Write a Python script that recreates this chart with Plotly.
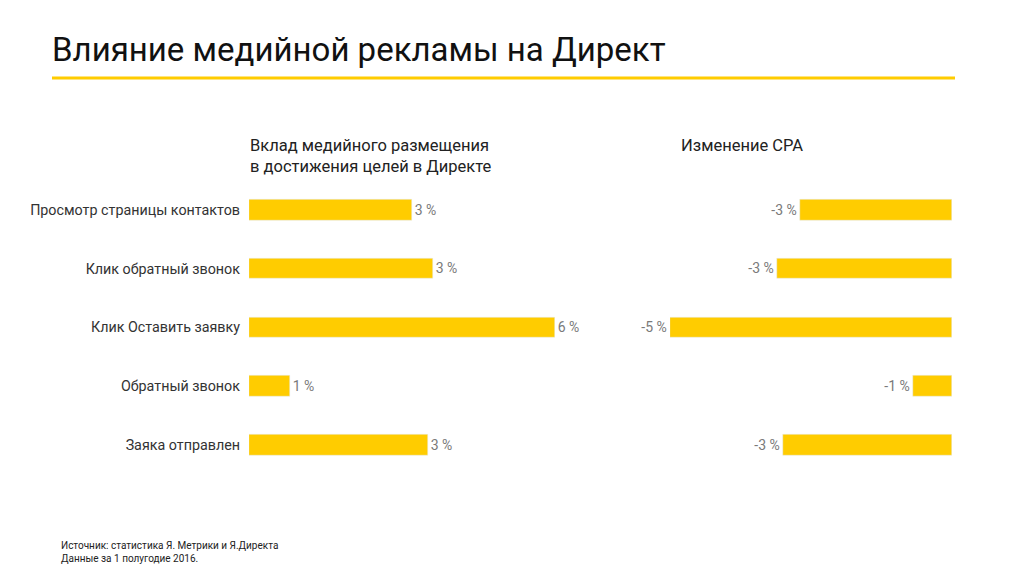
import plotly.graph_objects as go

categories = ["Просмотр страницы контактов", "Клик обратный звонок", "Клик Оставить заявку",
              "Обратный звонок", "Заяка отправлен"]
contribution = [3.2, 3.6, 6.0, 0.8, 3.5]
contribution_labels = ["3 %", "3 %", "6 %", "1 %", "3 %"]
cpa_change = [-2.7, -3.1, -5.0, -0.7, -3.0]
cpa_labels = ["-3 %", "-3 %", "-5 %", "-1 %", "-3 %"]

W, H = 1024, 576
OFF = 8  # page body margin offset
YELLOW = "#FFCC00"
FONT = "Roboto"


def px(x):
    return (x - OFF) / W


def py(y):
    return 1 - (y - OFF) / H


fig = go.Figure()
fig.add_trace(go.Bar(
    x=contribution, y=categories, orientation="h", marker_color=YELLOW,
    text=contribution_labels, textposition="outside", cliponaxis=False,
    textfont=dict(color="#7a7a7a", size=14, family=FONT),
    width=0.35, xaxis="x", yaxis="y", showlegend=False))
fig.add_trace(go.Bar(
    x=cpa_change, y=categories, orientation="h", marker_color=YELLOW,
    text=cpa_labels, textposition="outside", cliponaxis=False,
    textfont=dict(color="#7a7a7a", size=14, family=FONT),
    width=0.35, xaxis="x2", yaxis="y2", showlegend=False))

top, bottom = 180.5, 474.3
ydom = [py(bottom), py(top)]

fig.update_layout(
    width=W, height=H, margin=dict(l=0, r=0, t=0, b=0),
    paper_bgcolor="white", plot_bgcolor="white",
    font=dict(family=FONT),
    bargap=0,
    xaxis=dict(domain=[px(249), px(555)], range=[0, 6.0], visible=False, fixedrange=True),
    xaxis2=dict(domain=[px(670), px(952)], range=[-5.0, 0], visible=False, fixedrange=True),
    yaxis=dict(domain=ydom, anchor="x", autorange="reversed", showgrid=False, zeroline=False,
               showline=False, ticks="", ticklabelstandoff=8,
               tickfont=dict(size=14.3, color="#333333", family=FONT)),
    yaxis2=dict(domain=ydom, anchor="x2", autorange="reversed", showgrid=False, zeroline=False,
                showline=False, showticklabels=False, ticks=""),
    shapes=[dict(type="line", xref="paper", yref="paper",
                 x0=px(52), x1=px(955), y0=py(78), y1=py(78),
                 line=dict(color=YELLOW, width=3))],
    annotations=[
        dict(text="Влияние медийной рекламы на Директ", x=px(50), y=py(50),
             xref="paper", yref="paper", xanchor="left", yanchor="middle", showarrow=False,
             font=dict(size=33, color="#111111", family=FONT)),
        dict(text="Вклад медийного размещения<br>в достижения целей в Директе", x=px(248), y=py(156),
             xref="paper", yref="paper", xanchor="left", yanchor="middle", showarrow=False, align="left",
             font=dict(size=16.5, color="#222222", family=FONT)),
        dict(text="Изменение CPA", x=px(679), y=py(145),
             xref="paper", yref="paper", xanchor="left", yanchor="middle", showarrow=False,
             font=dict(size=16.5, color="#222222", family=FONT)),
        dict(text="Источник: статистика Я. Метрики и Я.Директа<br>Данные за 1 полугодие 2016.",
             x=px(59), y=py(552), xref="paper", yref="paper", xanchor="left", yanchor="middle",
             showarrow=False, align="left", font=dict(size=10, color="#222222", family=FONT)),
    ],
)

fig.write_html("out.html")
